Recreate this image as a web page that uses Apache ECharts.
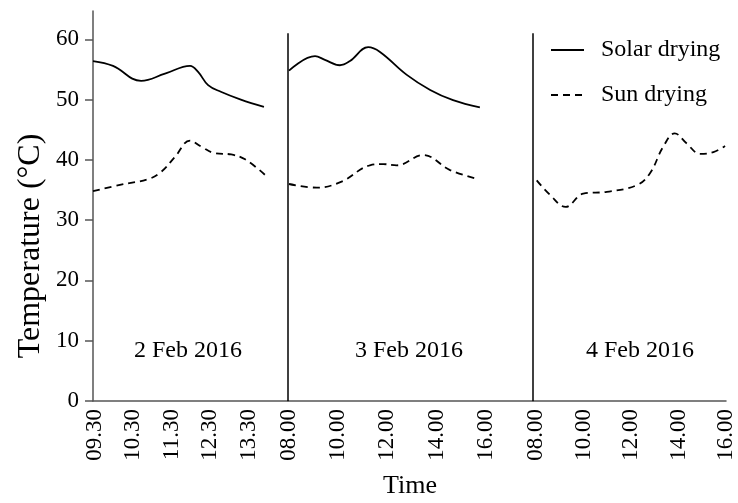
<!DOCTYPE html>
<html>
<head>
<meta charset="utf-8">
<script src="https://cdn.jsdelivr.net/npm/echarts@6/dist/echarts.min.js"></script>
<style>
  html, body { margin: 0; padding: 0; background: #fff; }
  #chart { width: 738px; height: 503px; }
</style>
</head>
<body>
<div id="chart"></div>
<script>
// Drying temperatures over three days (hours as decimal clock time, °C)
const day1SolarHours = [9.45, 9.97, 10.70, 11.32, 11.97, 12.18, 12.44, 12.77, 13.29, 13.89];
const day1Solar      = [56.4, 55.6, 53.1, 54.3, 55.6, 54.6, 52.4, 51.3, 50.0, 48.8];
const day1SunHours   = [9.45, 10.18, 10.88, 11.22, 11.58, 11.97, 12.26, 12.62, 13.04, 13.40, 13.92];
const day1Sun        = [34.8, 35.9, 36.8, 38.0, 40.5, 43.2, 42.2, 41.1, 40.9, 40.1, 37.5];

const day2SolarHours = [8.00, 9.06, 9.46, 10.07, 10.48, 11.22, 11.70, 12.79, 13.74, 14.67, 15.76];
const day2Solar      = [54.8, 57.2, 56.6, 55.7, 56.4, 58.7, 57.9, 54.1, 51.6, 49.9, 48.7];
const day2SunHours   = [8.00, 9.13, 10.14, 11.29, 11.83, 12.38, 13.46, 14.55, 15.70];
const day2Sun        = [36.0, 35.4, 36.4, 39.1, 39.3, 39.1, 40.8, 38.3, 36.8];

const day3SunHours   = [8.03, 8.59, 9.25, 9.99, 10.98, 12.24, 12.80, 13.36, 13.84, 14.35, 14.91, 15.47, 15.96];
const day3Sun        = [36.6, 34.2, 32.2, 34.4, 34.7, 35.8, 37.8, 42.2, 44.4, 42.7, 41.0, 41.3, 42.3];

// Axis tick labels per day
const day1TickHours  = [9.5, 10.5, 11.5, 12.5, 13.5];
const day1TickLabels = ['09.30', '10.30', '11.30', '12.30', '13.30'];
const day2TickHours  = [8, 10, 12, 14, 16];
const day2TickLabels = ['08.00', '10.00', '12.00', '14.00', '16.00'];
const day3TickHours  = [8, 10, 12, 14, 16];
const day3TickLabels = ['08.00', '10.00', '12.00', '14.00', '16.00'];
const yTicks = [0, 10, 20, 30, 40, 50, 60];

const dayLabels = ['2 Feb 2016', '3 Feb 2016', '4 Feb 2016'];
const seriesNames = ['Solar drying', 'Sun drying'];

const FONT = "'Liberation Serif', 'Times New Roman', serif";
const AXIS_GREY = '#555';

const pairs = (xs, ys) => xs.map((x, i) => [x, ys[i]]);

// Day ranges on each panel's time axis
const dayRanges = [[9.45, 14.515], [7.96, 17.92], [7.874, 16.0]];
const tickSets = [
  [day1TickHours, day1TickLabels],
  [day2TickHours, day2TickLabels],
  [day3TickHours, day3TickLabels]
];

const grids = [
  { left: 93,  right: 450, top: 11, bottom: 102 },
  { left: 288, right: 205, top: 11, bottom: 102 },
  { left: 533, right: 12,  top: 11, bottom: 102 }
];

const xAxes = dayRanges.map((r, i) => ({
  type: 'value',
  gridIndex: i,
  min: r[0],
  max: r[1],
  axisLine: { show: true, onZero: false, lineStyle: { color: AXIS_GREY, width: 1.5 } },
  axisTick: { show: false },
  splitLine: { show: false },
  axisLabel: {
    customValues: tickSets[i][0],
    rotate: 90,
    margin: 8,
    fontFamily: FONT,
    fontSize: 23,
    color: '#000',
    formatter: v => {
      const k = tickSets[i][0].indexOf(v);
      return k >= 0 ? tickSets[i][1][k] : '';
    }
  }
}));

const yAxes = [0, 1, 2].map(i => ({
  type: 'value',
  gridIndex: i,
  min: 0,
  max: 64.7,
  show: i === 0,
  axisLine: { show: true, lineStyle: { color: AXIS_GREY, width: 1.5 } },
  axisTick: { show: true, customValues: yTicks, length: 8, lineStyle: { color: AXIS_GREY, width: 1.5 } },
  splitLine: { show: false },
  axisLabel: {
    customValues: yTicks,
    margin: 14,
    fontFamily: FONT,
    fontSize: 23,
    color: '#000'
  }
}));

const solarStyle = { color: '#000', width: 1.8, type: 'solid' };
const sunStyle   = { color: '#000', width: 1.8, type: [7, 5] };

function lineSeries(name, axis, data, style, extra) {
  return Object.assign({
    name: name,
    type: 'line',
    xAxisIndex: axis,
    yAxisIndex: axis,
    data: data,
    smooth: 0.4,
    symbol: 'none',
    color: '#000',
    lineStyle: style
  }, extra || {});
}

// Vertical separator between consecutive days
function dividerAt(x) {
  return {
    silent: true,
    symbol: 'none',
    label: { show: false },
    lineStyle: { color: '#000', width: 1.5, type: 'solid' },
    data: [[{ coord: [x, 0] }, { coord: [x, 61] }]]
  };
}

const option = {
  animation: false,
  backgroundColor: '#fff',
  grid: grids,
  xAxis: xAxes,
  yAxis: yAxes,
  legend: {
    orient: 'vertical',
    left: 550,
    top: 38,
    padding: 0,
    itemWidth: 33,
    itemHeight: 14,
    itemGap: 21,
    data: seriesNames,
    itemStyle: { opacity: 0 },
    textStyle: { fontFamily: FONT, fontSize: 24, color: '#000', padding: [0, 0, 0, 12] }
  },
  series: [
    lineSeries(seriesNames[0], 0, pairs(day1SolarHours, day1Solar), solarStyle),
    lineSeries(seriesNames[1], 0, pairs(day1SunHours, day1Sun), sunStyle),
    lineSeries(seriesNames[0], 1, pairs(day2SolarHours, day2Solar), solarStyle,
      { markLine: dividerAt(dayRanges[1][0]) }),
    lineSeries(seriesNames[1], 1, pairs(day2SunHours, day2Sun), sunStyle),
    lineSeries(seriesNames[1], 2, pairs(day3SunHours, day3Sun), sunStyle,
      { markLine: dividerAt(dayRanges[2][0]) })
  ],
  graphic: [
    { type: 'text', x: 188, y: 351, style: { text: dayLabels[0], font: '24px ' + FONT, fill: '#000', align: 'center', verticalAlign: 'middle' } },
    { type: 'text', x: 409, y: 351, style: { text: dayLabels[1], font: '24px ' + FONT, fill: '#000', align: 'center', verticalAlign: 'middle' } },
    { type: 'text', x: 640, y: 351, style: { text: dayLabels[2], font: '24px ' + FONT, fill: '#000', align: 'center', verticalAlign: 'middle' } },
    { type: 'text', x: 410, y: 486, style: { text: 'Time', font: '26px ' + FONT, fill: '#000', align: 'center', verticalAlign: 'middle' } },
    { type: 'text', x: 31, y: 246, rotation: Math.PI / 2, style: { text: 'Temperature (°C)', font: '32px ' + FONT, fill: '#000', align: 'center', verticalAlign: 'middle' } }
  ]
};

const chart = echarts.init(document.getElementById('chart'), null, { renderer: 'canvas' });
chart.setOption(option);
</script>
</body>
</html>
